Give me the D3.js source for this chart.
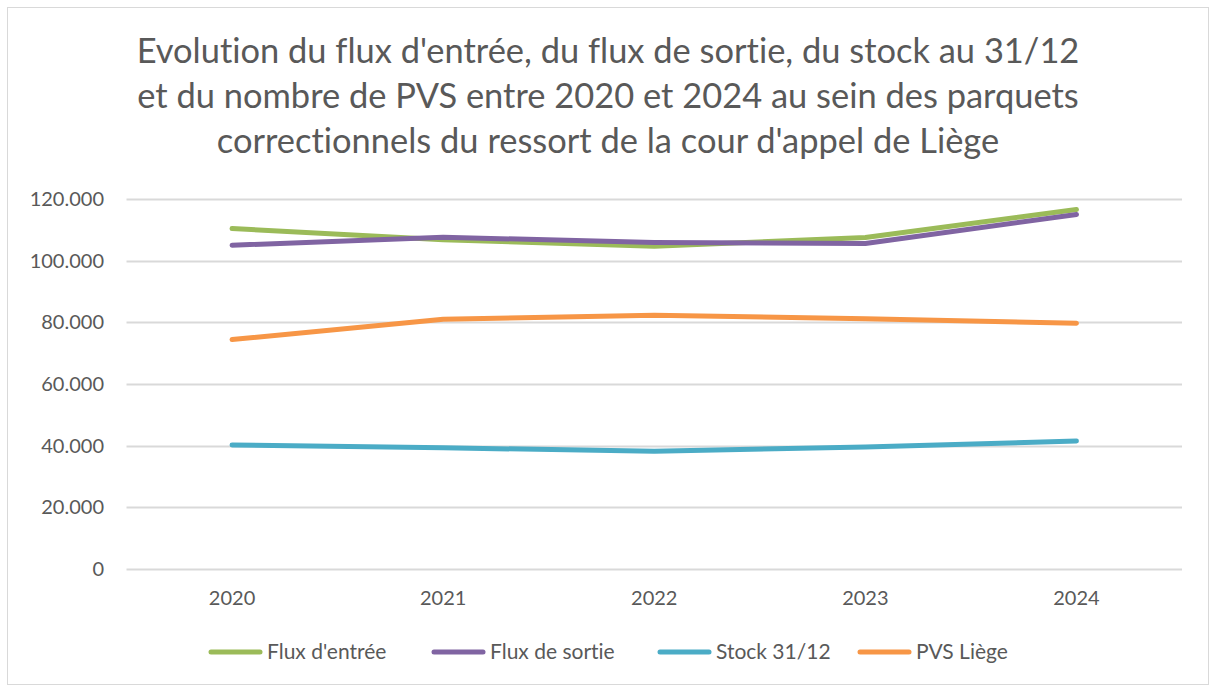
<!DOCTYPE html>
<html>
<head>
<meta charset="utf-8">
<script src="https://cdn.jsdelivr.net/npm/d3@7"></script>
<style>
  body { margin: 0; background: #fff; }
  text { font-family: Lato, "Open Sans", sans-serif; fill: #595959; font-variant-ligatures: none; }
</style>
</head>
<body>
<div id="chart"></div>
<script>
// données
var years = ["2020", "2021", "2022", "2023", "2024"];
var fluxEntree = [110400, 106800, 104700, 107500, 116600];
var fluxSortie = [105000, 107600, 105900, 105600, 115000];
var stock = [40200, 39300, 38200, 39600, 41500];
var pvsLiege = [74400, 81000, 82300, 81200, 79700];
var yTicks = [0, 20000, 40000, 60000, 80000, 100000, 120000];
var titleLines = [
  "Evolution du flux d'entrée, du flux de sortie, du stock au 31/12",
  "et du nombre de PVS entre 2020 et 2024 au sein des parquets",
  "correctionnels du ressort de la cour d'appel de Liège"
];

var series = [
  {name: "Flux d'entrée", values: fluxEntree, color: "#9BBB59"},
  {name: "Flux de sortie", values: fluxSortie, color: "#8064A2"},
  {name: "Stock 31/12", values: stock, color: "#4BACC6"},
  {name: "PVS Liège", values: pvsLiege, color: "#F79646"}
];

var width = 1216, height = 689;
var svg = d3.select("#chart").append("svg")
  .attr("width", width)
  .attr("height", height);

// cadre du graphique
svg.append("rect")
  .attr("x", 7.5).attr("y", 7.5)
  .attr("width", 1201).attr("height", 677)
  .attr("fill", "#fff")
  .attr("stroke", "#d9d9d9");

// titre
var title = svg.append("g");
title.selectAll("text")
  .data(titleLines)
  .enter()
  .append("text")
  .attr("x", 608)
  .attr("y", function (d, i) { return 63 + i * 45; })
  .attr("text-anchor", "middle")
  .style("font-size", "30px")
  .text(function (d) { return d; });
// ajuste la taille pour que la 1re ligne fasse ~943px
var w0 = title.select("text").node().getComputedTextLength();
var fs = 30 * 943 / w0;
title.selectAll("text").style("font-size", fs + "px");

var x = d3.scaleBand().domain(years).range([126.5, 1182]);
var y = d3.scaleLinear().domain([0, 120000]).range([569, 199]);

// grille
svg.append("g")
  .selectAll("line")
  .data(yTicks)
  .enter()
  .append("line")
  .attr("x1", 126.5).attr("x2", 1182)
  .attr("y1", function (d) { return Math.round(y(d)) + 0.5; })
  .attr("y2", function (d) { return Math.round(y(d)) + 0.5; })
  .attr("stroke", "#d9d9d9")
  .attr("stroke-width", 2);

// axe Y
var fmt = function (d) { return d === 0 ? "0" : d3.format(",")(d).replace(/,/g, "."); };
var yAxis = svg.append("g")
  .attr("transform", "translate(126,0)")
  .call(d3.axisLeft(y).tickValues(yTicks).tickFormat(fmt).tickSize(0).tickPadding(22));
yAxis.select(".domain").remove();
yAxis.selectAll("text")
  .style("font-size", "20px")
  .style("font-family", "Lato, sans-serif")
  .attr("fill", "#595959");

// axe X
var xAxis = svg.append("g")
  .attr("transform", "translate(0,569)")
  .call(d3.axisBottom(x).tickSize(0).tickPadding(22));
xAxis.select(".domain").remove();
xAxis.selectAll("text")
  .style("font-size", "20px")
  .style("font-family", "Lato, sans-serif")
  .attr("fill", "#595959");

// courbes
var line = d3.line()
  .x(function (d, i) { return x(years[i]) + x.bandwidth() / 2; })
  .y(function (d) { return y(d); });

svg.append("g")
  .selectAll("path")
  .data(series)
  .enter()
  .append("path")
  .attr("d", function (d) { return line(d.values); })
  .attr("fill", "none")
  .attr("stroke", function (d) { return d.color; })
  .attr("stroke-width", 5)
  .attr("stroke-linecap", "round")
  .attr("stroke-linejoin", "round");

// légende
var legendX = [209, 432, 658, 858];
var lg = svg.append("g")
  .selectAll("g")
  .data(series)
  .enter()
  .append("g")
  .attr("transform", function (d, i) { return "translate(" + legendX[i] + ",652)"; });
lg.append("line")
  .attr("x1", 2).attr("x2", 51)
  .attr("y1", 0).attr("y2", 0)
  .attr("stroke", function (d) { return d.color; })
  .attr("stroke-width", 5)
  .attr("stroke-linecap", "round");
lg.append("text")
  .attr("x", 58)
  .attr("y", 0)
  .attr("dy", "0.35em")
  .style("font-size", "21px")
  .text(function (d) { return d.name; });
</script>
</body>
</html>
